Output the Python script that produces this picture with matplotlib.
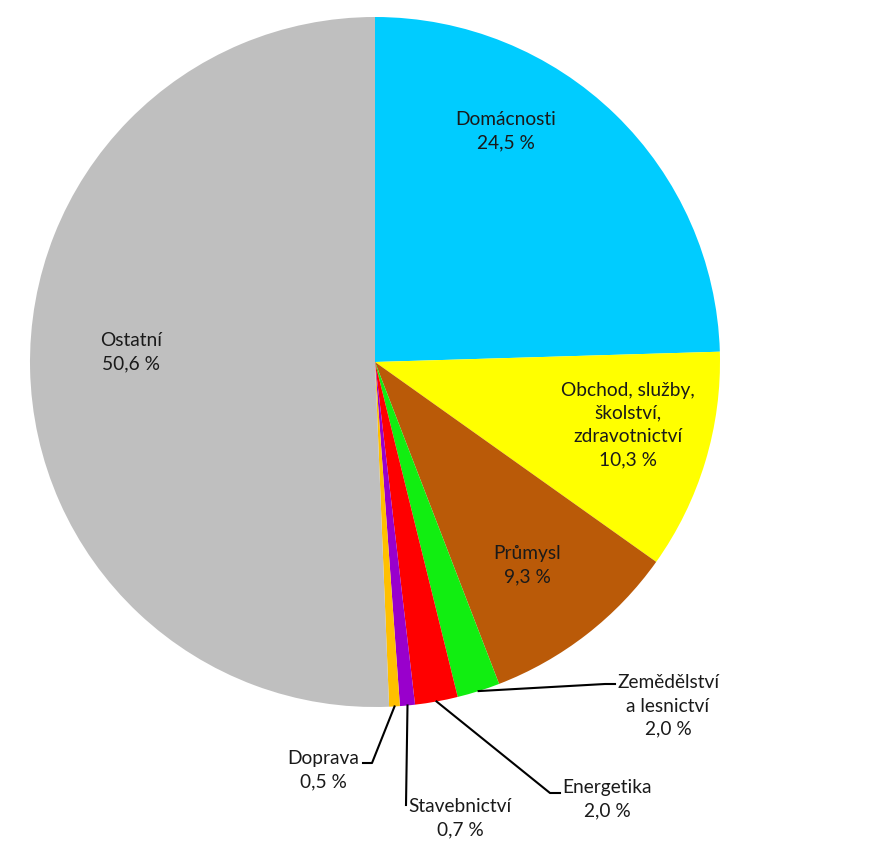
import numpy as np
import matplotlib.pyplot as plt

plt.rcParams['font.family'] = ['Lato', 'DejaVu Sans']

# --- data ---
kategorie = ['Domácnosti', 'Obchod, služby,\nškolství,\nzdravotnictví', 'Průmysl',
             'Zemědělství\na lesnictví', 'Energetika', 'Stavebnictví', 'Doprava', 'Ostatní']
podil = [24.5, 10.3, 9.3, 2.0, 2.0, 0.7, 0.5, 50.6]
barvy = ['#00CCFF', '#FFFF00', '#BA5A08', '#11EE11', '#FF0000', '#9900CC', '#FFC000', '#BFBFBF']

W, H = 870, 865
CX, CY, R = 375, 362, 345


def px(x, y):
    # pixel -> data coords (pie radius 1)
    return (x - CX) / R, (CY - y) / R


# label centres (pixels), elbow + end of leader line (None = inside label)
popisky = [(506, 131), (628, 425), (527, 565), (668, 706), (607, 799), (460, 818), (323, 770), (131, 352)]
vodici = [None, None, None,
          [(605, 684), (615, 684)],
          [(550, 793), (560, 793)],
          [(406, 805)],
          [(372, 763), (363, 763)],
          None]

fig = plt.figure(figsize=(W / 100, H / 100), dpi=100)
ax = fig.add_axes([(CX - R) / W, (H - CY - R) / H, 2 * R / W, 2 * R / H])

wedges, _ = ax.pie(podil, colors=barvy, startangle=90, counterclock=False,
                   radius=1, wedgeprops=dict(linewidth=0))
ax.set_xlim(-1, 1)
ax.set_ylim(-1, 1)
ax.axis('off')

for w, kat, val, pos, ved in zip(wedges, kategorie, podil, popisky, vodici):
    txt = f"{kat}\n{val:.1f} %".replace('.', ',')
    x, y = px(*pos)
    ax.text(x, y, txt, ha='center', va='center', fontsize=13.8, color='#1a1a1a',
            linespacing=1.45, clip_on=False)
    if ved:
        th = np.deg2rad((w.theta1 + w.theta2) / 2)
        xs = [np.cos(th)] + [px(*p)[0] for p in ved]
        ys = [np.sin(th)] + [px(*p)[1] for p in ved]
        ax.plot(xs, ys, color='black', linewidth=1.5, clip_on=False)

fig.savefig('out.png', dpi=100)
